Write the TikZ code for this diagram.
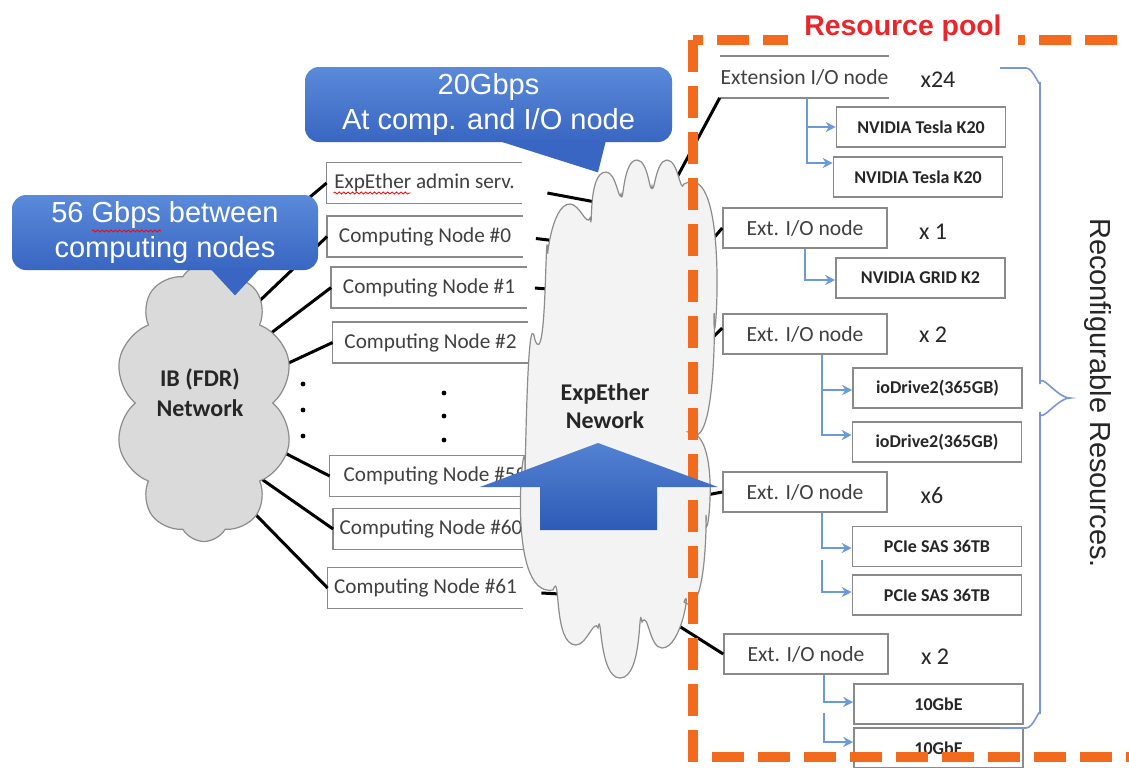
\documentclass[tikz,border=0pt]{standalone}
\usepackage{fontspec}
\setmainfont{Carlito}
\newfontfamily\arialfont{Liberation Sans}
\usetikzlibrary{shapes.symbols,arrows.meta,decorations.pathmorphing}
\definecolor{boxgray}{HTML}{8A8A8A}
\definecolor{txtgray}{HTML}{404040}
\definecolor{txtdark}{HTML}{262626}
\definecolor{cloudgray}{HTML}{8C8C8C}
\definecolor{ibfill}{HTML}{DADADA}
\definecolor{ethfill}{HTML}{F3F3F3}
\definecolor{caltop}{HTML}{5A8AD9}
\definecolor{calbot}{HTML}{3966C2}
\definecolor{arrtop}{HTML}{5282D2}
\definecolor{arrbot}{HTML}{2E5BB6}
\definecolor{feedblue}{HTML}{6A9BD8}
\definecolor{bracecol}{HTML}{7A96D6}
\definecolor{poolorange}{HTML}{F26A1E}
\definecolor{poolred}{HTML}{E8262B}
\tikzset{
  cnode/.style={minimum width=97.5pt,minimum height=20pt,inner sep=0pt,text=txtgray,font=\fontsize{10.6}{12}\selectfont},
  xnode/.style={draw=boxgray,line width=0.8pt,fill=white,minimum width=82pt,minimum height=20pt,inner sep=0pt,text=txtgray,font=\fontsize{10.8}{12}\selectfont},
  res/.style={draw=boxgray,line width=0.8pt,fill=white,minimum width=84.5pt,minimum height=20pt,inner sep=0pt,text=txtdark,font=\bfseries\fontsize{9}{11}\selectfont},
  cnt/.style={text=txtdark,font=\fontsize{12}{14}\selectfont},
  wire/.style={line width=1.5pt},
  feed/.style={draw=feedblue,line width=1pt,-{Stealth[length=5pt,width=5pt]}},
  puff/.style={cloud,cloud puffs=10,cloud puff arc=120,cloud ignores aspect,draw=cloudgray,line width=0.6pt,inner sep=0pt},
  cloudtxt/.style={align=center,text=txtdark,font=\bfseries\fontsize{12}{15}\selectfont},
  bubble/.style={rounded corners=7pt,top color=caltop,bottom color=calbot,text=white,align=center,inner sep=0pt,font=\arialfont\fontsize{14.5}{17.5}\selectfont},
  squiggle/.style={draw=red,line width=0.4pt,decorate,decoration={snake,amplitude=0.5pt,segment length=2.2pt}},
  pool/.style={draw=poolorange,line width=5pt,dash pattern=on 16pt off 7pt},
}
\begin{document}
\begin{tikzpicture}[x=0.5pt,y=-0.5pt]
\useasboundingbox (0,0) rectangle (1129,767);
\clip (0,0) rectangle (1129,767);
\fill[white] (0,0) rectangle (1129,767);
\coordinate (ibc) at (204,403);
\coordinate (ethc) at (618,419);
%
% computing side
\node[cnode] (adm) at (424.5,183) {ExpEther admin serv.};
\node[cnode] (c0) at (425,236.5) {Computing Node \#0};
\node[cnode] (c1) at (429,287.5) {Computing Node \#1};
\node[cnode] (c2) at (430.5,342.5) {Computing Node \#2};
\node[cnode,minimum width=105pt] (c59) at (435,476) {Computing Node \#59};
\node[cnode] (c60) at (431,529) {Computing Node \#60};
\node[cnode] (c61) at (425.5,588) {Computing Node \#61};
\foreach \n in {adm,c0,c1,c2,c59,c60,c61}
  \draw[boxgray,line width=0.8pt] (\n.north east) -- (\n.north west) -- (\n.south west) -- (\n.south east);
\draw[squiggle] ([shift={(-91,10)}]adm.center) -- ([shift={(-14,10)}]adm.center);
%
% resource side
\node[xnode,draw=none] (ext24) at (804.5,77) {Extension I/O node};
\draw[boxgray,line width=0.8pt] (ext24.north west) -- (ext24.north east) (ext24.south west) -- (ext24.south east);
\node[xnode] (e1) at (805,228) {Ext. I/O node};
\node[xnode] (e2) at (805,334) {Ext. I/O node};
\node[xnode] (e6) at (805,492) {Ext. I/O node};
\node[xnode] (e2b) at (806,654) {Ext. I/O node};
\node[cnt] (n24) at (938,80) {x24};
\node[cnt] (n1) at (933,232) {x 1};
\node[cnt] (n2) at (933,335) {x 2};
\node[cnt] (n6) at (932,495) {x6};
\node[cnt] (n2b) at (935,657) {x 2};
%
\node[res] (k20a) at (921,127) {NVIDIA Tesla K20};
\node[res] (k20b) at (918,177) {NVIDIA Tesla K20};
\node[res] (grid) at (920.5,278) {NVIDIA GRID K2};
\node[res] (io1) at (937.5,388) {ioDrive2(365GB)};
\node[res] (io2) at (937,442) {ioDrive2(365GB)};
\node[res] (sas1) at (937,546.5) {PCIe SAS 36TB};
\node[res] (sas2) at (937,595) {PCIe SAS 36TB};
\node[res] (gbe1) at (938.5,704) {10GbE};
\node[res] (gbe2) at (938.5,748) {10GbE};
%
\draw[feed] ([xshift=1pt]ext24.south) |- (k20a.west);
\draw[feed] ([xshift=1pt]ext24.south) |- ([yshift=7pt]k20b.west);
\draw[feed] (e1.south) |- ([yshift=-1pt]grid.west);
\draw[feed] ([xshift=8.5pt]e2.south) |- ([yshift=-1pt]io1.west);
\draw[feed] ([xshift=8.5pt]e2.south) |- ([yshift=3.5pt]io2.west);
\draw[feed] ([xshift=8.5pt]e6.south) |- ([yshift=-0.75pt]sas1.west);
\coordinate (s6) at (822,560);
\draw[feed] (s6) |- ([yshift=1.5pt]sas2.west);
\draw[feed] ([xshift=9pt]e2b.south) |- ([yshift=1pt]gbe1.west);
\coordinate (s2) at (824,713);
\draw[feed] (s2) |- ([yshift=3pt]gbe2.west);
%
% links (ends hidden under the clouds)
\draw[wire] ([shift={(61,-168)}]ibc) -- (adm.west);
\draw[wire] ([shift={(46,-93)}]ibc) -- (c0.west);
\draw[wire] ([shift={(46,-54)}]ibc) -- (c1.west);
\draw[wire] ([shift={(46,-22)}]ibc) -- (c2.west);
\draw[wire] ([shift={(36,27)}]ibc) -- (c59.west);
\draw[wire] ([shift={(26,54)}]ibc) -- (c60.west);
\draw[wire] ([shift={(6,65)}]ibc) -- (c61.west);
\draw[wire] ([shift={(25,10)}]adm.east) -- ([shift={(20,-209)}]ethc);
\draw[wire] ([shift={(13,2)}]c0.east) -- ([shift={(-20,-173)}]ethc);
\draw[wire] ([shift={(8,0.5)}]c1.east) -- ([shift={(-20,-126)}]ethc);
\draw[wire] ([shift={(18,5)}]c61.east) -- ([shift={(-20,177)}]ethc);
\draw[wire] ([shift={(42,-210)}]ethc) -- (ext24.south west);
\draw[wire] ([shift={(52,-129)}]ethc) -- (e1.west);
\draw[wire] ([shift={(57,-44)}]ethc) -- ([yshift=3pt]e2.west);
\draw[wire] ([shift={(47,84)}]ethc) -- (e6.west);
\draw[wire] ([shift={(12,176)}]ethc) -- (e2b.west);
%
% clouds
\node[puff,fill=ibfill,minimum width=89pt,minimum height=138.5pt] (ib) at (ibc) {};
\node[cloudtxt] (ibt) at (200,393) {IB (FDR)\\Network};
\filldraw[fill=ethfill,draw=cloudgray,line width=0.6pt]
  (548,250) to[out=-95,in=180] (570,204) to[out=0,in=-110] (590,218)
  to[out=-80,in=180] (606,172) to[out=0,in=-100] (621,194)
  to[out=-80,in=180] (637,160) to[out=0,in=-100] (652,186)
  to[out=-80,in=180] (667,160) to[out=0,in=-110] (684,184)
  to[out=30,in=-90] (714,320) to[out=90,in=-45] (688,432)
  to[out=0,in=-90] (706,520) to[out=90,in=-40] (684,602)
  to[out=70,in=0] (662,648) to[out=180,in=60] (642,622)
  to[out=100,in=0] (620,678) to[out=180,in=80] (598,628)
  to[out=110,in=0] (576,645) to[out=180,in=70] (553,590)
  to[out=-170,in=90] (525,465) to[out=-90,in=100] (535,340)
  to[out=-70,in=95] (548,250) -- cycle;
\node[cloudtxt,font=\bfseries\fontsize{12}{14}\selectfont] (eth) at (605,406) {ExpEther\\Nework};
\foreach \y in {384,410,436} \fill (303,\y) circle (1.2pt);
\foreach \y in {393,416,440} \fill (444,\y) circle (1.2pt);
%
% callouts
\node[bubble,minimum width=153pt,minimum height=37.5pt] (bw) at (165,232.5) {56 Gbps between\\computing nodes};
\fill[calbot] ([shift={(45,-2)}]bw.south) -- ([shift={(70,25)}]bw.south) -- ([shift={(95,-2)}]bw.south) -- cycle;
\draw[squiggle] ([shift={(-73,-1.5)}]bw.center) -- ([shift={(-4,-1.5)}]bw.center);
\node[bubble,minimum width=183.5pt,minimum height=37.5pt] (sp) at (488.5,104.5) {20Gbps\\At comp. and I/O node};
\fill[calbot] ([shift={(8.5,-2)}]sp.south) -- ([shift={(109.5,30)}]sp.south) -- ([shift={(117.5,-2)}]sp.south) -- cycle;
%
% pool
\draw[pool] (693,40) rectangle (1200,757);
\node[fill=white,text=poolred,font=\arialfont\bfseries\fontsize{14.2}{16}\selectfont,inner xsep=8pt,inner ysep=3pt] (rp) at (903,28) {Resource pool};
\draw[bracecol,line width=0.8pt] (1000,68) -- (1026,68) to[out=0,in=-90] (1040,82) -- (1040,384) to[out=90,in=180] (1070,398) to[out=180,in=-90] (1040,412) -- (1040,714) to[out=90,in=0] (1026,728) -- (1000,728);
\node[rotate=-90,text=txtdark,font=\arialfont\fontsize{14.5}{16}\selectfont] (rr) at (1098,393) {Reconfigurable Resources.};
%
\shade[top color=arrtop,bottom color=arrbot] (598,443) -- (718,487) -- (657,487) -- (657,530) -- (540,530) -- (540,487) -- (480,487) -- cycle;
\end{tikzpicture}
\end{document}
